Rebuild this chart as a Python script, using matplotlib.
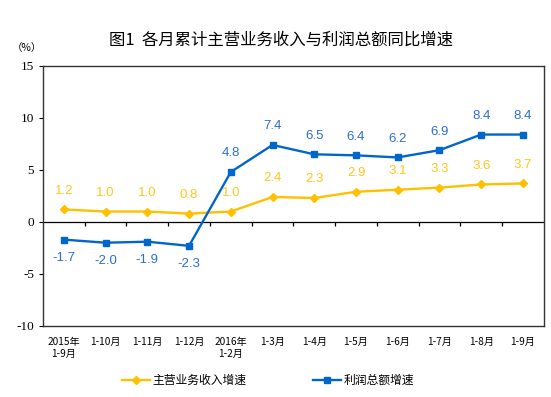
import matplotlib.pyplot as plt
import numpy as np

plt.rcParams['font.family'] = ['Noto Sans CJK SC', 'DejaVu Sans']

# 数据
periods = ["2015年\n1-9月", "1-10月", "1-11月", "1-12月", "2016年\n1-2月",
           "1-3月", "1-4月", "1-5月", "1-6月", "1-7月", "1-8月", "1-9月"]
revenue = [1.2, 1.0, 1.0, 0.8, 1.0, 2.4, 2.3, 2.9, 3.1, 3.3, 3.6, 3.7]
profit = [-1.7, -2.0, -1.9, -2.3, 4.8, 7.4, 6.5, 6.4, 6.2, 6.9, 8.4, 8.4]
yticks = [-10, -5, 0, 5, 10, 15]

yellow = "#FFC000"
blue = "#0066CC"

fig = plt.figure(figsize=(5.51, 3.97), dpi=100)
ax = fig.add_axes([0.078, 0.179, 0.909, 0.655])

x = np.arange(len(periods))
ax.plot(x, revenue, color=yellow, lw=1.7, marker="D", ms=4.5, label="主营业务收入增速")
ax.plot(x, profit, color=blue, lw=1.7, marker="s", ms=4.3, label="利润总额增速")

for i, v in enumerate(revenue):
    ax.annotate(f"{v:.1f}", (i, v), xytext=(0, 9), textcoords="offset points",
                ha="center", va="bottom", color="#FFC61A", fontsize=9.5,
                family="Liberation Sans")
for i, v in enumerate(profit):
    off = 9 if v > 0 else -9
    ax.annotate(f"{v:.1f}", (i, v), xytext=(0, off), textcoords="offset points",
                ha="center", va="bottom" if v > 0 else "top", color="#2A6FCF",
                fontsize=9.5, family="Liberation Sans")

ax.set_xlim(-0.5, len(periods) - 0.5)
ax.set_ylim(-10, 15)
ax.set_yticks(yticks)
ax.set_yticklabels([str(t) for t in yticks], family="Liberation Serif", fontsize=9.5)
ax.tick_params(axis="y", direction="out", length=3, width=0.8)

# 零轴及分隔刻度
ax.axhline(0, color="black", lw=0.9, zorder=1)
ax.vlines(np.arange(len(periods) - 1) + 0.5, -0.35, 0, color="black", lw=0.9)

ax.set_xticks(x)
ax.set_xticklabels(periods, fontsize=7.3, linespacing=1.2)
ax.tick_params(axis="x", length=0, pad=8)
for s in ax.spines.values():
    s.set_color("#333333")
    s.set_linewidth(1)

fig.text(0.022, 0.872, "（%）", fontsize=7.5)
fig.text(0.51, 0.899, "图1  各月累计主营业务收入与利润总额同比增速", ha="center",
         va="center", fontsize=11.8, weight="medium")

ax.legend(loc="upper center", bbox_to_anchor=(0.449, -0.145), ncol=2, frameon=False,
          fontsize=8.5, columnspacing=5.6, handlelength=2.4, handletextpad=0.2)

plt.savefig("out.png", dpi=100)
